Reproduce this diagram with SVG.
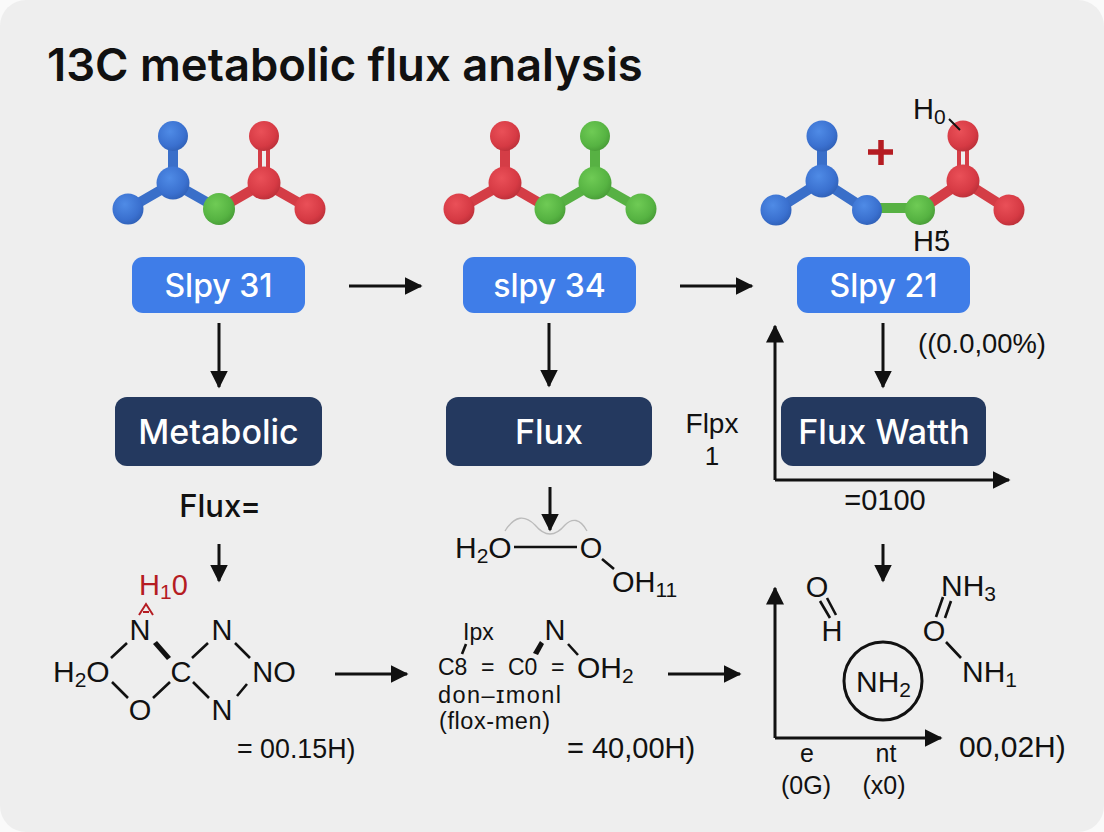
<svg xmlns="http://www.w3.org/2000/svg" width="1104" height="832" viewBox="0 0 1104 832">
<style>
text{font-family:"Liberation Sans",Arial,sans-serif;fill:#111;}
.m{font-size:29px;text-anchor:middle}
.c{font-size:30px}
.blue{fill:#3f7de8}.dark{fill:#24395f}
.lb{font-family:Inter,"Liberation Sans",sans-serif;font-size:34px;fill:#fff;text-anchor:middle;font-weight:500}
.ls{font-size:32px}
.ln{stroke:#111;stroke-width:3;fill:none}
.bond{stroke:#111;stroke-width:2.6;fill:none}
.bb{stroke:#3a6fc9;stroke-width:10;fill:none}
.br{stroke:#d43d46;stroke-width:10;fill:none}
.bg{stroke:#57b143;stroke-width:10;fill:none}
.dbl{stroke:#d43d46;stroke-width:4;fill:none}
</style>
<defs>
<radialGradient id="gb" cx="0.4" cy="0.35" r="0.7"><stop offset="0" stop-color="#4f8be6"/><stop offset="0.7" stop-color="#3a70cf"/><stop offset="1" stop-color="#2f5fb5"/></radialGradient>
<radialGradient id="gr" cx="0.4" cy="0.35" r="0.7"><stop offset="0" stop-color="#ea5058"/><stop offset="0.7" stop-color="#d63a44"/><stop offset="1" stop-color="#b92f38"/></radialGradient>
<radialGradient id="gg" cx="0.4" cy="0.35" r="0.7"><stop offset="0" stop-color="#6fcb55"/><stop offset="0.7" stop-color="#56b342"/><stop offset="1" stop-color="#479a36"/></radialGradient>
<marker id="a" markerWidth="6" markerHeight="6" refX="5.500" refY="3" orient="auto" markerUnits="strokeWidth" viewBox="0 0 6 6"><path d="M0 0L6 3L0 6Z" fill="#111"/></marker>
</defs>
<rect width="1104" height="832" fill="#fafafa"/>
<rect width="1104" height="832" rx="26" fill="#eeeeee"/>
<text id="title" x="47" y="81" style="font-family:Inter,'Liberation Sans',sans-serif;font-size:45.400px;font-weight:600">13C metabolic flux analysis</text>

<g id="connectors">
<g class="ln">
<path d="M349 286H421" marker-end="url(#a)"/>
<path d="M680 286H752" marker-end="url(#a)"/>
<path d="M219 323V387" marker-end="url(#a)"/>
<path d="M549 323V386" marker-end="url(#a)"/>
<path d="M883 323V387" marker-end="url(#a)"/>
<path d="M219 544V581" marker-end="url(#a)"/>
<path d="M550 487V530" marker-end="url(#a)"/>
<path d="M883 544V581" marker-end="url(#a)"/>
<path d="M335 674H407" marker-end="url(#a)"/>
<path d="M668 674H740" marker-end="url(#a)"/>
<path d="M775 480V326" marker-end="url(#a)"/>
<path d="M775 480H1009" marker-end="url(#a)"/>
<path d="M775 738V588" marker-end="url(#a)"/>
<path d="M775 738H941" marker-end="url(#a)"/>
</g>
</g>

<g id="mol1">
<path class="bb" d="M173 136V183M128 209L173 183L219 209"/>
<path class="br" d="M219 209L264 183L310 209"/>
<path class="dbl" d="M260 140V180M268 140V180"/>
<circle cx="173" cy="136" r="15" fill="url(#gb)"/><circle cx="173" cy="183" r="16.500" fill="url(#gb)"/><circle cx="128" cy="209" r="15.500" fill="url(#gb)"/>
<circle cx="219" cy="209" r="16" fill="url(#gg)"/>
<circle cx="264" cy="183" r="16.500" fill="url(#gr)"/><circle cx="264" cy="136" r="15" fill="url(#gr)"/><circle cx="310" cy="209" r="15.500" fill="url(#gr)"/>
</g>
<g id="mol2">
<path class="br" d="M505 136V183M459 209L505 183L550 209"/>
<path class="bg" d="M550 209L595 183L641 209M595 136V183"/>
<circle cx="505" cy="136" r="15" fill="url(#gr)"/><circle cx="505" cy="183" r="16.500" fill="url(#gr)"/><circle cx="459" cy="209" r="15.500" fill="url(#gr)"/>
<circle cx="550" cy="209" r="15.500" fill="url(#gg)"/><circle cx="595" cy="183" r="16.500" fill="url(#gg)"/><circle cx="595" cy="136" r="15" fill="url(#gg)"/><circle cx="641" cy="209" r="15.500" fill="url(#gg)"/>
</g>
<g id="mol3">
<path class="bb" d="M822 136V181M776 210L822 181L867 210"/>
<path class="bg" d="M867 208H920"/>
<path class="br" d="M920 210L963 181L1009 210"/>
<path class="dbl" d="M959 140V178M967 140V178"/>
<circle cx="822" cy="136" r="15.500" fill="url(#gb)"/><circle cx="822" cy="181" r="16.500" fill="url(#gb)"/><circle cx="776" cy="210" r="15.500" fill="url(#gb)"/><circle cx="867" cy="210" r="15" fill="url(#gb)"/>
<circle cx="920" cy="210" r="15" fill="url(#gg)"/>
<circle cx="963" cy="181" r="16.500" fill="url(#gr)"/><circle cx="963" cy="136" r="15.500" fill="url(#gr)"/><circle cx="1009" cy="210" r="15.500" fill="url(#gr)"/>
<path d="M868 152H893M881 140V165" stroke="#b51c22" stroke-width="5.500"/>
<path d="M949 119L960 130" stroke="#111" stroke-width="2"/>
<text x="913" y="119" style="font-size:29px">H<tspan font-size="21" dy="5">0</tspan></text>
<text x="913" y="251" style="font-size:29px">H5</text>
<path d="M946 230L944 237" stroke="#111" stroke-width="1.500"/>
</g>

<g id="n-slpy31"><rect class="blue" x="132" y="257" width="173" height="56" rx="11"/><text class="lb ls" x="218.500" y="297">Slpy 31</text></g>
<g id="n-slpy34"><rect class="blue" x="463" y="257" width="173" height="56" rx="11"/><text class="lb ls" x="549.500" y="297">slpy 34</text></g>
<g id="n-slpy21"><rect class="blue" x="797" y="257" width="173" height="56" rx="11"/><text class="lb ls" x="883.500" y="297">Slpy 21</text></g>
<g id="n-metabolic"><rect class="dark" x="115" y="397" width="207" height="69" rx="12"/><text class="lb" x="218.500" y="444">Metabolic</text></g>
<g id="n-flux"><rect class="dark" x="446" y="397" width="206" height="69" rx="12"/><text class="lb" x="549" y="444">Flux</text></g>
<g id="n-fluxwatth"><rect class="dark" x="781" y="397" width="205" height="69" rx="12"/><text class="lb" x="884" y="444">Flux Watth</text></g>

<g id="labels">
<text x="982" y="353" text-anchor="middle" style="font-size:27.400px">((0.0,00%)</text>
<text x="712" y="433" text-anchor="middle" style="font-size:28px">Flpx</text>
<text x="712" y="465" text-anchor="middle" style="font-size:26px">1</text>
<text x="885" y="510" text-anchor="middle" style="font-size:29px">=0100</text>
<text x="220" y="517" text-anchor="middle" style="font-family:Inter,'Liberation Sans',sans-serif;font-size:31px;font-weight:500">Flux=</text>
<text x="237" y="758" style="font-size:26.800px">= 00.15H)</text>
<text x="567" y="758" style="font-size:29px">= 40,00H)</text>
<text x="959" y="757" style="font-size:30px">00,02H)</text>
</g>

<g id="struct1">
<text x="139" y="595" style="font-size:29px;fill:#b51c22">H<tspan font-size="21" dy="4">1</tspan><tspan dy="-4">0</tspan></text>
<path d="M139 615L146 604L153 615M143 612H149" fill="none" stroke="#b51c22" stroke-width="2"/>
<text class="m" x="140" y="640">N</text>
<text class="m" x="222" y="640">N</text>
<text class="c" x="53" y="682">H<tspan font-size="21" dy="5">2</tspan><tspan dy="-5">O</tspan></text>
<text class="m" x="181" y="682">C</text>
<text class="m" x="274" y="682">NO</text>
<text class="m" x="140" y="720">O</text>
<text class="m" x="222" y="720">N</text>
<path class="bond" d="M111 658L127 643M112 682L128 698M153 698L170 682M192 658L208 643M235 643L250 658M193 682L209 698M237 696L247 684"/>
<path d="M153 644L157 641L171 657L167 660Z" fill="#111"/>
</g>

<g id="struct2">
<text class="c" x="455" y="558">H<tspan font-size="21" dy="5">2</tspan><tspan dy="-5">O</tspan></text>
<text class="m" x="591" y="558">O</text>
<text x="612" y="592" style="font-size:29px">OH<tspan font-size="21" dy="5">11</tspan></text>
<path class="bond" d="M514 547H577M602 559L614 569"/>
<path d="M505 531C515 515 525 515 535 525C545 537 555 537 565 525C572 518 580 518 587 531" fill="none" stroke="#bbb" stroke-width="1.300"/>
</g>

<g id="struct3">
<text x="463" y="640" style="font-size:23px">Ipx</text>
<text class="m" x="555" y="640">N</text>
<text x="438" y="675" style="font-size:23px">C8</text>
<text x="481" y="675" style="font-size:23px">=</text>
<text x="508" y="675" style="font-size:23px">C0</text>
<text x="551" y="675" style="font-size:23px">=</text>
<text class="c" x="577" y="678">OH<tspan font-size="21" dy="5">2</tspan></text>
<text x="438" y="703" textLength="123" lengthAdjust="spacing" style="font-size:23.500px">don–ɪmonl</text>
<text x="439" y="729" textLength="111" lengthAdjust="spacing" style="font-size:23.500px">(flox-men)</text>
<path class="bond" d="M466 644L462 654M568 644L578 655"/>
<path d="M540 641L544 644L538 655L533 653Z" fill="#111"/>
</g>

<g id="struct4">
<text class="m" x="817" y="597">O</text>
<text class="m" x="832" y="641">H</text>
<path class="bond" d="M820 601L830 618M827 598L836 615"/>
<text class="c" x="941" y="596">NH<tspan font-size="21" dy="5">3</tspan></text>
<text class="m" x="934" y="641">O</text>
<text class="c" x="962" y="682">NH<tspan font-size="21" dy="5">1</tspan></text>
<path class="bond" d="M936 617L943 597M945 618L951 601M946 642L961 658"/>
<circle cx="883" cy="681" r="39" fill="none" stroke="#111" stroke-width="3"/>
<text class="c" x="856" y="692">NH<tspan font-size="21" dy="5">2</tspan></text>
<text x="807" y="762" text-anchor="middle" style="font-size:25px">e</text>
<text x="886" y="762" text-anchor="middle" style="font-size:25px">nt</text>
<text x="806" y="794" text-anchor="middle" style="font-size:25px">(0G)</text>
<text x="884" y="794" text-anchor="middle" style="font-size:25px">(x0)</text>
</g>
</svg>
